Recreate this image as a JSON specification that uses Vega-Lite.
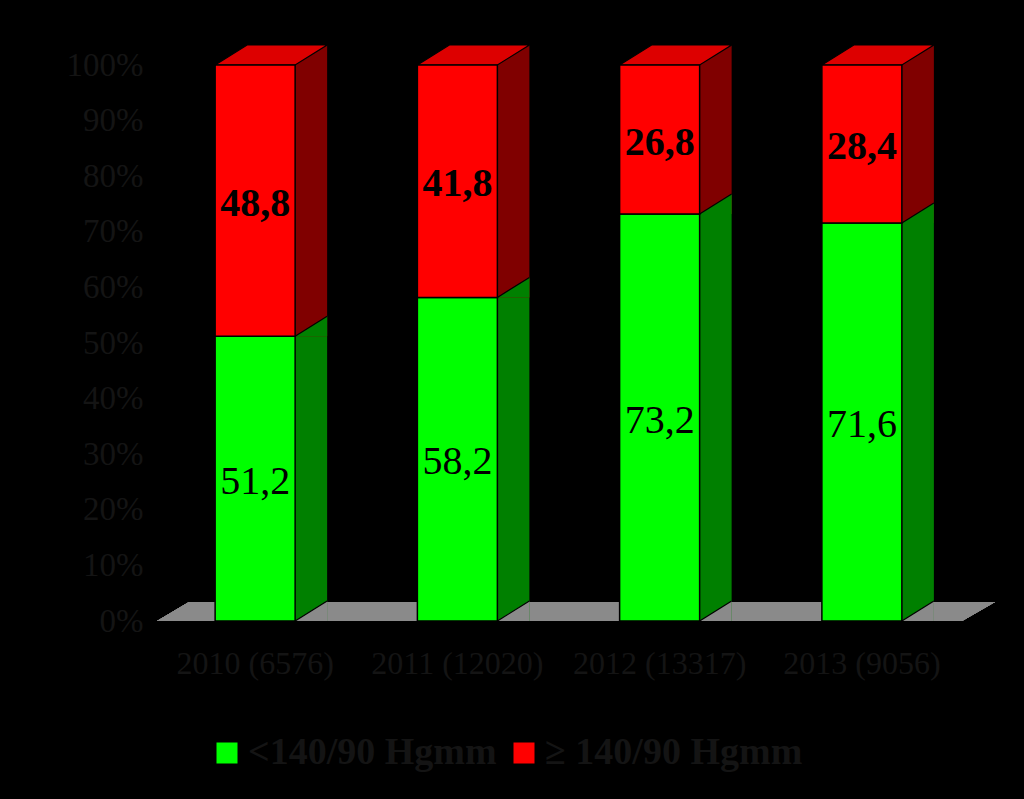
{
  "$schema": "https://vega.github.io/schema/vega-lite/v6.json",
  "width": 809,
  "height": 556,
  "autosize": {"type": "none"},
  "padding": {"left": 154, "top": 65, "right": 61, "bottom": 178},
  "background": "#000000",
  "config": {
    "view": {"stroke": null},
    "font": "Liberation Serif",
    "axis": {"grid": false, "domain": false, "ticks": false, "tickSize": 0},
    "locale": {"number": {"decimal": ",", "thousands": ".", "grouping": [3], "currency": ["", " €"]}}
  },
  "data": {"values": [
    {"year": "2010 (6576)", "cat": "<140/90 Hgmm", "pct": 51.2},
    {"year": "2010 (6576)", "cat": "≥ 140/90 Hgmm", "pct": 48.8},
    {"year": "2011 (12020)", "cat": "<140/90 Hgmm", "pct": 58.2},
    {"year": "2011 (12020)", "cat": "≥ 140/90 Hgmm", "pct": 41.8},
    {"year": "2012 (13317)", "cat": "<140/90 Hgmm", "pct": 73.2},
    {"year": "2012 (13317)", "cat": "≥ 140/90 Hgmm", "pct": 26.8},
    {"year": "2013 (9056)", "cat": "<140/90 Hgmm", "pct": 71.6},
    {"year": "2013 (9056)", "cat": "≥ 140/90 Hgmm", "pct": 28.4}
  ]},
  "transform": [
    {"stack": "pct", "groupby": ["year"], "sort": [{"field": "cat", "order": "ascending"}], "as": ["v0", "v1"]}
  ],
  "encoding": {
    "x": {
      "field": "year", "type": "nominal", "sort": null,
      "scale": {"paddingInner": 0, "paddingOuter": 0},
      "axis": {"title": null, "labelAngle": 0, "domain": false, "ticks": false, "tickSize": 0,
               "labelPadding": 27, "labelFontSize": 32, "labelFont": "Liberation Serif",
               "labelColor": "#141414", "labelLimit": 400}
    }
  },
  "layer": [
    {
      "mark": {"type": "point", "shape": "M-401.5,0 L403.5,0 L436.5,-19 L-369.5,-19 Z", "size": 4,
               "filled": true, "fill": "#8a8a8a", "opacity": 1, "strokeWidth": 0},
      "encoding": {
        "x": null,
        "y": {"datum": 0, "type": "quantitative", "title": null, "scale": {"domain": [0, 100]},
              "axis": {"values": [0, 10, 20, 30, 40, 50, 60, 70, 80, 90, 100], "labelExpr": "datum.value + '%'",
                       "domain": false, "ticks": false, "tickSize": 0, "grid": false, "labelPadding": 11,
                       "labelFontSize": 33, "labelFont": "Liberation Serif", "labelColor": "#141414", "title": null}}
      }
    },
    {
      "transform": [{"filter": {"field": "cat", "equal": "<140/90 Hgmm"}}],
      "mark": {"type": "bar", "width": 32, "xOffset": 56, "yOffset": -20, "fill": "#008000", "strokeWidth": 0},
      "encoding": {
        "y": {"field": "v1", "type": "quantitative", "title": null},
        "y2": {"field": "v0"}
      }
    },
    {
      "transform": [{"filter": {"field": "cat", "equal": "≥ 140/90 Hgmm"}}],
      "mark": {"type": "bar", "width": 32, "xOffset": 56, "yOffset": -20, "fill": "#800000", "strokeWidth": 0},
      "encoding": {
        "y": {"field": "v1", "type": "quantitative", "title": null},
        "y2": {"field": "v0"}
      }
    },
    {
      "mark": {"type": "point", "shape": "M0,0 L32,0 L32,-20 Z", "size": 4, "xOffset": 40,
               "filled": true, "opacity": 1, "strokeWidth": 0},
      "encoding": {
        "y": {"field": "v0", "type": "quantitative", "title": null},
        "fill": {"condition": {"test": "datum.v0 == 0", "value": "#8a8a8a"}, "value": "#008000"}
      }
    },
    {
      "mark": {"type": "point", "shape": "M0,0 L32,-20", "size": 4, "xOffset": 40,
               "filled": false, "opacity": 1, "stroke": "#000000", "strokeWidth": 1.2},
      "encoding": {
        "y": {"field": "v0", "type": "quantitative", "title": null}
      }
    },
    {
      "transform": [{"filter": {"field": "cat", "equal": "≥ 140/90 Hgmm"}}],
      "mark": {"type": "point", "shape": "M-40,0 L-8,-20 L72,-20 L40,0 Z", "size": 4,
               "filled": true, "fill": "#DD0000", "opacity": 1, "stroke": "#000000", "strokeWidth": 1.2},
      "encoding": {
        "y": {"field": "v1", "type": "quantitative", "title": null}
      }
    },
    {
      "mark": {"type": "bar", "width": 80, "stroke": "#000000", "strokeWidth": 1.5},
      "encoding": {
        "y": {"field": "v1", "type": "quantitative", "title": null},
        "y2": {"field": "v0"},
        "color": {
          "field": "cat", "type": "nominal",
          "scale": {"domain": ["<140/90 Hgmm", "≥ 140/90 Hgmm"], "range": ["#00FF00", "#FF0000"]},
          "legend": {"orient": "none", "legendX": 54, "legendY": 669, "direction": "horizontal", "title": null,
                     "symbolType": "square", "symbolSize": 441, "symbolStrokeWidth": 0, "symbolOpacity": 1,
                     "labelFontSize": 38, "labelFont": "Liberation Serif", "labelFontWeight": "bold",
                     "labelColor": "#141414", "labelOffset": 2, "columnPadding": 8, "labelLimit": 500, "padding": 0}
        }
      }
    },
    {
      "transform": [
        {"filter": {"field": "cat", "equal": "<140/90 Hgmm"}},
        {"fold": ["v0", "v1"], "as": ["k", "vv"]}
      ],
      "mark": {"type": "text", "fontSize": 40, "font": "Liberation Serif", "fontWeight": "normal",
               "color": "#000000", "baseline": "middle", "dy": 3},
      "encoding": {
        "y": {"field": "vv", "aggregate": "mean", "type": "quantitative", "title": null},
        "text": {"field": "pct", "type": "quantitative", "format": ".1f"}
      }
    },
    {
      "transform": [
        {"filter": {"field": "cat", "equal": "≥ 140/90 Hgmm"}},
        {"fold": ["v0", "v1"], "as": ["k", "vv"]}
      ],
      "mark": {"type": "text", "fontSize": 40, "font": "Liberation Serif", "fontWeight": "bold",
               "color": "#000000", "baseline": "middle", "dy": 3},
      "encoding": {
        "y": {"field": "vv", "aggregate": "mean", "type": "quantitative", "title": null},
        "text": {"field": "pct", "type": "quantitative", "format": ".1f"}
      }
    }
  ]
}
